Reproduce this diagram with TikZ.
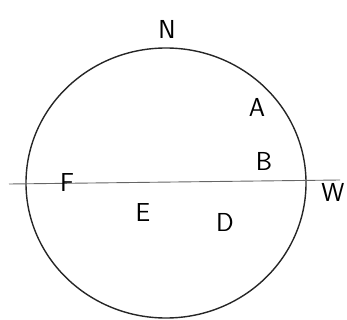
\documentclass[tikz,border=0pt]{standalone}
\begin{document}
\begin{tikzpicture}[x=1pt,y=-1pt,
  lbl/.style={font=\sffamily\fontsize{26}{26}\selectfont, inner sep=0pt},
  rim/.style={line width=1.4pt, black!85},
  axis/.style={line width=0.9pt, black!60}]
\useasboundingbox (0,0) rectangle (347,320);
\coordinate (c) at (166,183);
\draw[rim] (c) ellipse [x radius=140, y radius=135];
\coordinate (l) at (9,184);
\coordinate (r) at (340,180);
\draw[axis] (l) -- (r);
\node[lbl] (N) at (167,29) {N};
\node[lbl] (A) at (257,107) {A};
\node[lbl] (B) at (264,161) {B};
\node[lbl] (F) at (67,183) {F};
\node[lbl] (E) at (143,213) {E};
\node[lbl] (D) at (225,222) {D};
\node[lbl] (W) at (333,192) {W};
\end{tikzpicture}
\end{document}
